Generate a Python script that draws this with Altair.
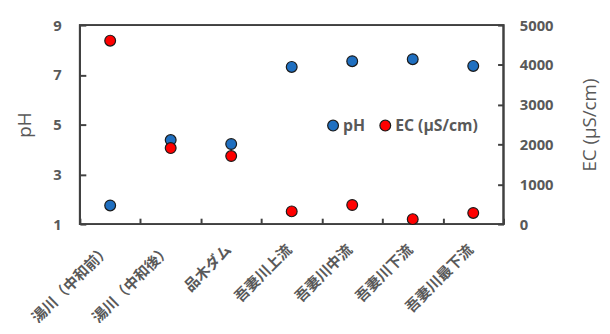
import altair as alt
import pandas as pd

sites = ["湯川（中和前）", "湯川（中和後）", "品木ダム", "吾妻川上流", "吾妻川中流", "吾妻川下流", "吾妻川最下流"]
ph_values = [1.75, 4.38, 4.22, 7.32, 7.55, 7.63, 7.36]
ec_values = [4610, 1910, 1710, 320, 480, 125, 280]
series_names = ["pH", "EC (μS/cm)"]
series_colors = ["#1f6fc0", "#ff0000"]
ph_ticks = [1, 3, 5, 7, 9]
ec_ticks = [0, 1000, 2000, 3000, 4000, 5000]

df = pd.DataFrame({"site": sites, "pH": ph_values, "EC": ec_values})

FONT = "Open Sans, Noto Sans CJK JP, sans-serif"
GRAY = "#595959"
DARK = "#404040"
W, H = 430, 202

x = alt.X(
    "site:N",
    sort=sites,
    title=None,
    scale=alt.Scale(type="band", paddingInner=0, paddingOuter=0),
    axis=alt.Axis(
        orient="bottom", offset=-6, domain=False, tickBand="extent", tickSize=6,
        tickColor=DARK, tickWidth=2, labelAngle=-45, labelAlign="right",
        labelBaseline="middle", labelPadding=23, labelOffset=-3, labelFont=FONT,
        labelFontSize=15, labelFontWeight="bold", labelColor=GRAY, grid=False,
        labelOverlap=False, labelLimit=300,
    ),
)

color = alt.Color(
    "series:N",
    scale=alt.Scale(domain=series_names, range=series_colors),
    legend=alt.Legend(
        orient="none", legendX=249, legendY=94, direction="horizontal", title=None,
        labelFont=FONT, labelFontSize=16, labelFontWeight="bold", labelColor=GRAY,
        symbolType="circle", symbolSize=120, symbolStrokeWidth=1.2,
        symbolStrokeColor="#1a1a1a", columnPadding=12, labelOffset=2, padding=0,
    ),
)

point_props = dict(size=120, stroke="#1a1a1a", strokeWidth=1.2, opacity=1)

ph_layer = alt.Chart(df).transform_calculate(series="'pH'").mark_circle(**point_props).encode(
    x=x,
    y=alt.Y(
        "pH:Q",
        scale=alt.Scale(domain=[1, 9], nice=False, zero=False),
        axis=alt.Axis(
            orient="left", values=ph_ticks, offset=-6, domain=False, tickSize=6,
            tickColor=DARK, tickWidth=2, labelPadding=19, labelFont=FONT,
            labelFontSize=15, labelFontWeight="bold", labelColor=GRAY, grid=False,
            title="pH", titleFont=FONT, titleFontSize=19, titleFontWeight="normal",
            titleColor=GRAY, titleX=-62, titleY=101, titleAngle=270,
            titleAlign="center", titleBaseline="middle",
        ),
    ),
    color=color,
)

ec_layer = alt.Chart(df).transform_calculate(series="'EC (μS/cm)'").mark_circle(**point_props).encode(
    x=x,
    y=alt.Y(
        "EC:Q",
        scale=alt.Scale(domain=[0, 5000], nice=False),
        axis=alt.Axis(
            orient="right", values=ec_ticks, format="d", offset=-6, domain=False, tickSize=6,
            tickColor=DARK, tickWidth=2, labelPadding=16, labelFont=FONT,
            labelFontSize=15, labelFontWeight="bold", labelColor=GRAY, grid=False,
            title="EC (μS/cm)", titleFont=FONT, titleFontSize=19, titleFontWeight="normal",
            titleColor=GRAY, titleX=93, titleY=101, titleAngle=270,
            titleAlign="center", titleBaseline="middle",
        ),
    ),
    color=color,
)

frame = alt.Chart(pd.DataFrame({"f": [0]})).mark_rect(
    fill="#ffffff", fillOpacity=0, stroke=DARK, strokeWidth=2, strokeOpacity=1
).encode(x=alt.value(0), x2=alt.value(W), y=alt.value(0), y2=alt.value(H))

chart = (
    alt.layer(frame, ph_layer, ec_layer)
    .resolve_scale(y="independent")
    .properties(
        width=W, height=H, autosize="none",
        padding={"left": 73, "top": 15, "right": 100, "bottom": 98},
        background="white",
    )
    .configure_view(stroke=DARK, strokeWidth=2)
)

chart.save("out.html", embed_options={"renderer": "svg", "actions": False})
